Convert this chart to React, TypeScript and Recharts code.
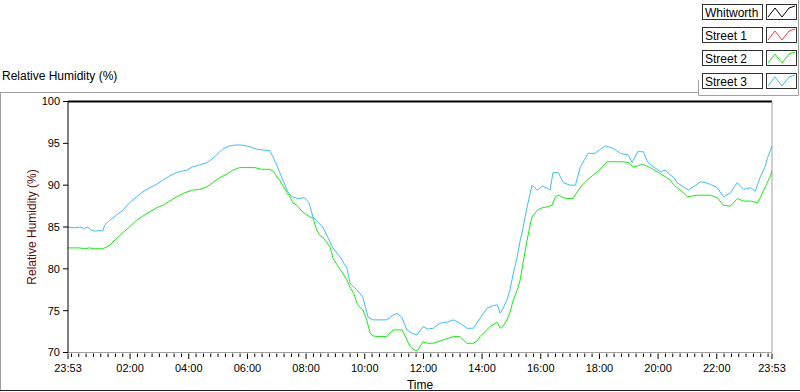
import React from 'react';
import { LineChart, Line, XAxis, YAxis, ReferenceLine } from 'recharts';

const FONT = '"Liberation Sans", Arial, sans-serif';

const seriesNames = ['Whitworth', 'Street 1', 'Street 2', 'Street 3'];
const seriesColors = ['#000000', '#ff3a3a', '#14ec14', '#3dbdf7'];

// minutes since 23:53
const street3Minutes = [
  0, 13, 24, 34, 40, 48, 56, 65, 71, 75,
  85, 99, 112, 126, 140, 153, 167, 181, 194, 208,
  222, 235, 243, 255, 269, 284, 294, 304, 316, 331,
  343, 355, 372, 386, 398, 413, 419, 427, 433, 441,
  448, 454, 460, 470, 484, 493, 501, 511, 521, 532,
  542, 550, 558, 566, 570, 577, 585, 591, 603, 614,
  624, 638, 652, 663, 673, 683, 693, 704, 714, 726,
  736, 747, 761, 773, 788, 802, 816, 829, 843, 857,
  870, 878, 884, 890, 898, 904, 911, 919, 925, 929,
  939, 949, 960, 970, 978, 986, 992, 1003, 1013, 1027,
  1038, 1048, 1056, 1064, 1078, 1089, 1099, 1115, 1130, 1146,
  1154, 1165, 1177, 1185, 1197, 1212, 1222, 1232, 1238, 1246,
  1259, 1269, 1281, 1294, 1304, 1314, 1328, 1341, 1355, 1369,
  1382, 1396, 1406, 1416, 1425, 1431, 1437, 1440,
];
const street3Values = [
  85.0, 84.9, 85.0, 84.8, 85.0, 84.6, 84.5, 84.6, 84.5, 85.2,
  85.8, 86.4, 87.0, 87.9, 88.6, 89.2, 89.7, 90.1, 90.6, 91.1,
  91.5, 91.7, 91.8, 92.2, 92.4, 92.7, 93.1, 93.6, 94.3, 94.7,
  94.8, 94.8, 94.6, 94.3, 94.2, 94.1, 93.4, 92.4, 91.5, 90.4,
  89.4, 88.8, 88.6, 88.4, 88.5, 87.9, 86.2, 85.6, 85.0, 83.7,
  82.5, 81.9, 81.3, 80.5, 80.2, 78.3, 77.8, 77.5, 76.6, 74.2,
  73.9, 73.9, 73.9, 74.4, 74.7, 74.2, 72.7, 72.3, 72.1, 73.1,
  72.8, 72.9, 73.5, 73.6, 73.9, 73.5, 72.9, 72.9, 74.1, 75.3,
  75.6, 75.7, 74.7, 75.3, 76.3, 77.5, 79.5, 81.5, 83.4, 84.4,
  87.4, 90.0, 89.4, 89.9, 89.7, 89.4, 91.5, 91.5, 90.3, 90.0,
  90.0, 92.2, 93.0, 93.8, 93.8, 94.3, 94.7, 94.4, 93.8, 93.6,
  92.7, 94.0, 94.0, 92.8, 92.2, 91.6, 91.8, 91.2, 91.0, 90.3,
  89.8, 89.4, 89.9, 90.4, 90.3, 90.1, 89.7, 88.6, 89.1, 90.3,
  89.5, 89.7, 89.3, 91.0, 92.1, 93.3, 94.2, 94.7,
];

const street2Minutes = [
  0, 13, 24, 34, 44, 54, 65, 71, 79, 85,
  99, 112, 126, 140, 153, 167, 181, 194, 208, 222,
  239, 255, 269, 284, 296, 310, 325, 337, 351, 366,
  382, 396, 413, 421, 427, 433, 439, 448, 454, 460,
  468, 480, 495, 501, 509, 515, 521, 530, 536, 542,
  550, 562, 570, 577, 585, 591, 597, 603, 611, 618,
  624, 632, 642, 652, 665, 675, 683, 689, 693, 700,
  706, 714, 720, 726, 736, 747, 757, 767, 777, 788,
  802, 810, 816, 829, 837, 843, 853, 863, 878, 884,
  890, 898, 904, 911, 919, 925, 931, 939, 945, 949,
  960, 970, 980, 990, 997, 1003, 1013, 1023, 1033, 1044,
  1052, 1062, 1072, 1083, 1093, 1103, 1113, 1124, 1134, 1146,
  1156, 1165, 1175, 1183, 1191, 1199, 1208, 1222, 1232, 1238,
  1246, 1257, 1267, 1277, 1287, 1300, 1314, 1328, 1341, 1355,
  1369, 1382, 1396, 1410, 1416, 1423, 1431, 1437, 1440,
];
const street2Values = [
  82.5, 82.5, 82.5, 82.4, 82.5, 82.4, 82.4, 82.4, 82.6, 82.8,
  83.6, 84.3, 85.0, 85.8, 86.3, 86.8, 87.3, 87.6, 88.1, 88.6,
  89.1, 89.4, 89.5, 89.8, 90.3, 90.9, 91.3, 91.8, 92.1, 92.1,
  92.1, 91.9, 91.9, 91.6, 91.0, 90.6, 90.0, 89.1, 88.6, 87.9,
  87.6, 86.8, 86.2, 86.1, 84.6, 84.0, 83.8, 83.1, 82.6, 81.3,
  80.5, 79.5, 78.7, 77.8, 77.0, 75.9, 75.4, 75.1, 73.9, 72.3,
  72.0, 71.9, 71.9, 71.9, 72.7, 72.7, 72.7, 72.1, 71.5, 70.7,
  70.4, 70.2, 70.7, 71.3, 71.1, 71.1, 71.3, 71.5, 71.7, 71.9,
  71.9, 71.4, 71.1, 71.1, 71.4, 71.9, 72.5, 73.1, 73.6, 72.9,
  73.2, 73.9, 74.8, 76.3, 77.5, 78.7, 80.8, 83.4, 85.2, 86.2,
  87.0, 87.3, 87.4, 87.6, 88.6, 88.8, 88.5, 88.4, 88.4, 89.4,
  90.0, 90.6, 91.1, 91.6, 92.2, 92.8, 92.8, 92.8, 92.8, 92.7,
  92.2, 92.3, 92.5, 92.3, 92.1, 91.8, 91.5, 91.0, 90.6, 90.1,
  89.7, 89.2, 88.6, 88.7, 88.8, 88.8, 88.8, 88.5, 87.6, 87.5,
  88.4, 88.1, 88.1, 87.9, 88.5, 89.4, 90.4, 91.1, 91.8,
];

const yTicks = [70, 75, 80, 85, 90, 95, 100];
const xMajorTicks = [0, 127, 247, 367, 487, 607, 727, 847, 967, 1087, 1207, 1327, 1440];
const xMajorLabels = ['23:53', '02:00', '04:00', '06:00', '08:00', '10:00', '12:00', '14:00', '16:00', '18:00', '20:00', '22:00', '23:53'];

const street3Data = street3Minutes.map((m, i) => ({ m, v: street3Values[i] }));
const street2Data = street2Minutes.map((m, i) => ({ m, v: street2Values[i] }));

const minorTicks: number[] = [];
for (let m = 7; m < 1440; m += 15) minorTicks.push(m);
const allXTicks = Array.from(new Set([...xMajorTicks, ...minorTicks])).sort((a, b) => a - b);

const XTick = (props: any) => {
  const { x, y, payload } = props;
  const idx = xMajorTicks.indexOf(payload.value);
  const major = idx >= 0;
  return (
    <g>
      <line x1={x} x2={x} y1={y + 1} y2={y + (major ? 6.5 : 4.5)} stroke="#000" strokeWidth={1} />
      {major && (
        <text x={x} y={y + 19} textAnchor="middle" fontSize={11} fontFamily={FONT} fill="#000">
          {xMajorLabels[idx]}
        </text>
      )}
    </g>
  );
};

const legendRowTops = [4, 27, 50, 73];

export default function App() {
  return (
    <div style={{ position: 'absolute', left: 0, top: 0, width: 800, height: 392, background: '#fff', fontFamily: FONT }}>
      <LineChart
        width={800}
        height={392}
        margin={{ top: 101.5, right: 28, bottom: 9.5, left: 0 }}
      >
        <XAxis
          dataKey="m"
          type="number"
          domain={[0, 1440]}
          ticks={allXTicks}
          interval={0}
          tickSize={0}
          tickMargin={0}
          tickLine={false}
          tick={<XTick />}
          axisLine={{ stroke: '#a0a0a0' }}
          height={30}
          allowDataOverflow
          label={{ value: 'Time', position: 'insideBottom', offset: 2, dy: 8, fontSize: 12, fill: '#000', fontFamily: FONT }}
        />
        <YAxis
          type="number"
          domain={[70, 100]}
          ticks={yTicks}
          interval={0}
          width={68}
          tickSize={5}
          tickMargin={3}
          axisLine={{ stroke: '#000' }}
          tickLine={{ stroke: '#000' }}
          tick={{ fontSize: 11, fill: '#000', fontFamily: FONT }}
          allowDataOverflow
          label={{ value: 'Relative Humidity (%)', angle: -90, position: 'center', dx: -2, fontSize: 12, fill: '#5a0c0c', fontFamily: FONT }}
        />
        <ReferenceLine y={100} stroke="#000" strokeWidth={2} />
        <ReferenceLine x={1440} stroke="#a0a0a0" strokeWidth={1} />
        <Line
          data={street3Data}
          dataKey="v"
          name={seriesNames[3]}
          stroke={seriesColors[3]}
          strokeWidth={1}
          dot={false}
          type="linear"
          isAnimationActive={false}
        />
        <Line
          data={street2Data}
          dataKey="v"
          name={seriesNames[2]}
          stroke={seriesColors[2]}
          strokeWidth={1}
          dot={false}
          type="linear"
          isAnimationActive={false}
        />
      </LineChart>
      <svg
        width={800}
        height={392}
        style={{ position: 'absolute', left: 0, top: 0, pointerEvents: 'none' }}
      >
        <text x={2} y={80} fontSize={12} fontFamily={FONT} fill="#000">Relative Humidity (%)</text>
        <line x1={0} x2={698.5} y1={92.5} y2={92.5} stroke="#a0a0a0" />
        <line x1={698.5} x2={698.5} y1={80} y2={95.5} stroke="#a0a0a0" />
        <line x1={698.5} x2={798.5} y1={95.5} y2={95.5} stroke="#a0a0a0" />
        <line x1={798.5} x2={798.5} y1={0} y2={95.5} stroke="#a0a0a0" />
        <line x1={0.5} x2={0.5} y1={92.5} y2={391} stroke="#a0a0a0" />
        <line x1={0} x2={800} y1={390.5} y2={390.5} stroke="#202020" />
        {seriesNames.map((name, i) => {
          const t = legendRowTops[i];
          return (
            <g key={name}>
              <rect x={702.5} y={t + 0.5} width={60} height={15} fill="#fff" stroke="#303030" />
              <text x={705} y={t + 12.5} fontSize={12} fontFamily={FONT} fill="#000">{name}</text>
              <rect x={766.5} y={t + 0.5} width={30} height={15} fill="#fff" stroke="#303030" />
              <polyline
                points={`${768},${t + 13} ${775},${t + 4} ${782},${t + 13} ${789},${t + 4} ${795},${t + 2}`}
                fill="none"
                stroke={seriesColors[i]}
                strokeWidth={1}
              />
            </g>
          );
        })}
      </svg>
    </div>
  );
}
